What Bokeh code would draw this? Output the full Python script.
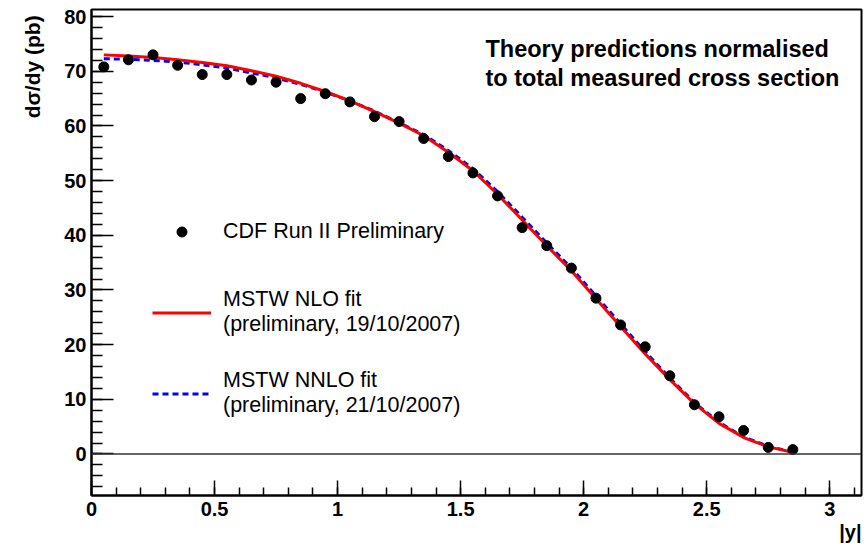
import numpy as np
from bokeh.plotting import figure
from bokeh.models import (Range1d, Span, Label, Legend, LegendItem, FixedTicker,
                          NumeralTickFormatter, Title)
from bokeh.embed import file_html
from bokeh.resources import INLINE

# ---- data ----
rapidity = [0.05, 0.15, 0.25, 0.35, 0.45, 0.55, 0.65, 0.75, 0.85, 0.95,
            1.05, 1.15, 1.25, 1.35, 1.45, 1.55, 1.65, 1.75, 1.85, 1.95,
            2.05, 2.15, 2.25, 2.35, 2.45, 2.55, 2.65, 2.75, 2.85]
cdf_dsigma = [70.8, 72.1, 73.0, 71.1, 69.4, 69.4, 68.4, 68.0, 65.0, 65.9,
              64.4, 61.7, 60.8, 57.7, 54.4, 51.4, 47.2, 41.4, 38.1, 34.0,
              28.5, 23.6, 19.6, 14.3, 9.0, 6.8, 4.3, 1.2, 0.8]
mstw_nlo = [73.0, 72.8, 72.5, 72.1, 71.6, 71.0, 70.1, 69.1, 67.8, 66.3,
            64.6, 62.6, 60.5, 58.2, 55.2, 51.8, 47.5, 42.8, 38.1, 33.5,
            28.4, 23.3, 18.3, 13.6, 9.2, 5.6, 3.0, 1.3, 0.3]
mstw_nnlo = [72.3, 72.2, 72.0, 71.7, 71.2, 70.6, 69.7, 68.8, 67.6, 66.2,
             64.6, 62.7, 60.6, 58.4, 55.5, 52.2, 48.0, 43.3, 38.6, 34.0,
             28.9, 23.8, 18.7, 13.9, 9.4, 5.8, 3.1, 1.4, 0.35]
x_ticks = [0, 0.5, 1, 1.5, 2, 2.5, 3]
y_ticks = [0, 10, 20, 30, 40, 50, 60, 70, 80]

FONT = "Liberation Sans"

p = figure(width=866, height=546, x_range=Range1d(0, 3.129), y_range=Range1d(-7.6, 81.3),
           output_backend="svg", toolbar_location=None,
           min_border_left=91, min_border_right=5, min_border_top=9, min_border_bottom=51)
p.xgrid.visible = False
p.ygrid.visible = False
p.outline_line_color = "black"
p.outline_line_width = 2
p.background_fill_color = "white"
p.border_fill_color = "white"

p.xaxis.ticker = FixedTicker(ticks=x_ticks, minor_ticks=list(np.round(np.arange(0, 3.15, 0.1), 2)))
p.yaxis.ticker = FixedTicker(ticks=y_ticks, minor_ticks=list(range(-6, 82, 2)))
for ax in (p.xaxis[0], p.yaxis[0]):
    ax.formatter = NumeralTickFormatter(format="0.[0]")
    ax.axis_line_width = 2
    ax.axis_line_color = "black"
    ax.major_tick_out = 0
    ax.minor_tick_out = 0
    ax.major_tick_line_color = "black"
    ax.minor_tick_line_color = "black"
    ax.major_tick_line_width = 1.5
    ax.minor_tick_line_width = 1.5
    ax.major_label_text_font = FONT
    ax.major_label_text_font_style = "bold"
    ax.major_label_text_font_size = "20px"
    ax.major_label_text_color = "black"
p.xaxis.major_tick_in = 15
p.xaxis.minor_tick_in = 8
p.xaxis.major_label_standoff = 6
p.yaxis.major_tick_in = 22
p.yaxis.minor_tick_in = 11
p.yaxis.major_label_standoff = 5

p.add_layout(Span(location=0, dimension="width", line_color="#333333", line_width=1.5))

nnlo = p.line(rapidity, mstw_nnlo, line_color="blue", line_width=3, line_dash="6 4")
nlo = p.line(rapidity, mstw_nlo, line_color="red", line_width=3)
pts = p.scatter(rapidity, cdf_dsigma, size=10, fill_color="black", line_color="black")

legend = Legend(items=[
    LegendItem(label="CDF Run II Preliminary", renderers=[pts]),
    LegendItem(label="MSTW NLO fit\n(preliminary, 19/10/2007)", renderers=[nlo]),
    LegendItem(label="MSTW NNLO fit\n(preliminary, 21/10/2007)", renderers=[nnlo]),
], location=(61, 76), border_line_alpha=0, background_fill_alpha=0, padding=0, margin=0,
    spacing=29, glyph_width=59, glyph_height=25, label_height=52, label_standoff=12,
    label_text_font=FONT, label_text_font_size="21.5px", label_text_color="black")
p.add_layout(legend)

p.add_layout(Label(x=1.601, y=74.1, text="Theory predictions normalised", text_font=FONT,
                   text_font_style="bold", text_font_size="23.5px", text_baseline="alphabetic",
                   text_color="black"))
p.add_layout(Label(x=1.601, y=68.8, text="to total measured cross section", text_font=FONT,
                   text_font_style="bold", text_font_size="23.5px", text_baseline="alphabetic",
                   text_color="black"))

p.add_layout(Title(text="dσ/dy  (pb)", align="right", text_font=FONT, text_font_style="bold",
                   text_font_size="21px", text_color="black", standoff=35), "left")
p.add_layout(Title(text="|y|", align="right", text_font=FONT, text_font_style="bold",
                   text_font_size="20px", text_color="black", standoff=0), "below")

open("out.html", "w").write(file_html(p, INLINE))
